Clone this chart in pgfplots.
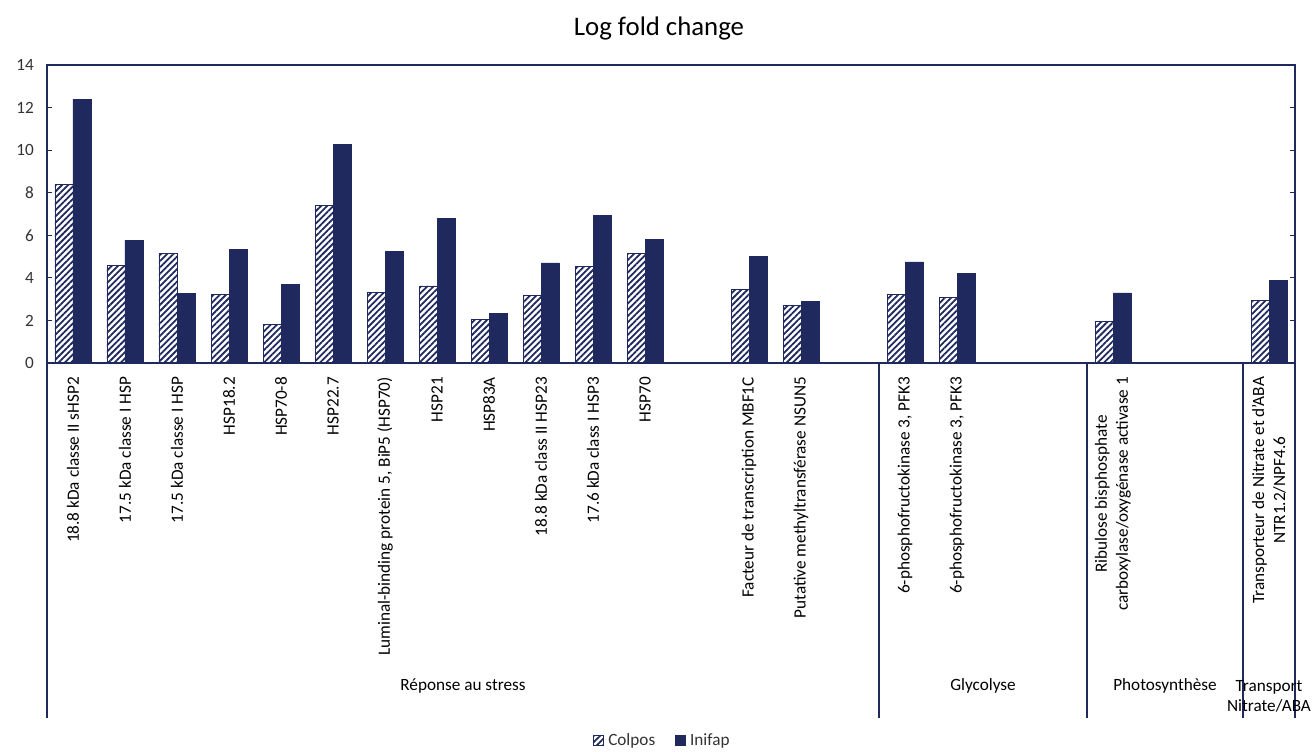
\documentclass[border=0pt]{standalone}
\usepackage{fontspec}
\setmainfont{Carlito}
\usepackage{pgfplots}
\usepackage{pgfplotstable}
\pgfplotsset{compat=1.18}
\usetikzlibrary{patterns.meta}
\definecolor{navy}{RGB}{31,41,94}

% slot, Colpos, Inifap (slots 12, 15, 18, 19, 21, 22 are empty)
\pgfplotstableread{
x colpos inifap
0 8.40 12.40
1 4.58 5.77
2 5.16 3.27
3 3.24 5.33
4 1.82 3.71
5 7.41 10.25
6 3.30 5.25
7 3.62 6.79
8 2.04 2.31
9 3.18 4.70
10 4.53 6.95
11 5.13 5.79
13 3.46 5.00
14 2.70 2.89
16 3.22 4.75
17 3.07 4.21
20 1.95 3.29
23 2.94 3.87
}\genes

\begin{document}
\begin{tikzpicture}
\useasboundingbox (-23.5pt,-194pt) rectangle (633pt,181.5pt);
\begin{axis}[
    at={(0,0)}, anchor=south west,
    scale only axis,
    width=624pt, height=149pt,
    ybar, ybar=0pt, bar width=9pt,
    xmin=-0.5, xmax=23.5,
    ymin=0, ymax=14, ytick={0,2,...,14},
    enlarge x limits=false,
    clip=false,
    axis line style={navy, line width=0.8pt},
    tick align=inside,
    major tick length=2.5pt,
    ytick style={navy, line width=0.6pt},
    xtick style={draw=none},
    /pgf/number format/assume math mode=true,
    yticklabel style={font=\fontsize{8.6}{10}\selectfont, text=black!80},
    yticklabel shift=3pt,
    xtick={0,1,2,3,4,5,6,7,8,9,10,11,13,14,16,17,20,23},
    xticklabels={
        18.8 kDa classe II sHSP2,
        17.5 kDa classe I HSP,
        17.5 kDa classe I HSP,
        HSP18.2,
        HSP70-8,
        HSP22.7,
        {Luminal-binding protein 5, BiP5 (HSP70)},
        HSP21,
        HSP83A,
        18.8 kDa class II HSP23,
        17.6 kDa class I HSP3,
        HSP70,
        Facteur de transcription MBF1C,
        Putative methyltransférase NSUN5,
        {6-phosphofructokinase 3, PFK3},
        {6-phosphofructokinase 3, PFK3},
        {Ribulose bisphosphate\\carboxylase/oxygénase activase 1},
        {Transporteur de Nitrate et d'ABA\\NTR1.2/NPF4.6}
    },
    xticklabel style={rotate=90, anchor=east, align=center,
        font=\fontsize{8.6}{10.5}\selectfont},
    xticklabel shift=3.5pt,
    legend columns=2,
    legend style={draw=none, fill=none, at={(0.494,-1.268)}, anchor=center,
        font=\fontsize{8.6}{10}\selectfont, text=black!80,
        /tikz/every even column/.append style={column sep=8pt}},
    legend image code/.code={\draw[#1] (0pt,-2.5pt) rectangle (5pt,2.5pt);},
]
\addplot[draw=navy, line width=0.4pt,
    pattern={Lines[angle=45, distance=2.2pt, line width=0.9pt]}, pattern color=navy]
    table[x=x, y=colpos] {\genes};
\addplot[draw=navy, fill=navy, line width=0.4pt]
    table[x=x, y=inifap] {\genes};
\legend{Colpos, Inifap}

% group separators of the category axis
\draw[navy, line width=0.8pt] (axis cs:-0.5,0) -- ++(0pt,-177.5pt);
\draw[navy, line width=0.8pt] (axis cs:15.5,0) -- ++(0pt,-177.5pt);
\draw[navy, line width=0.8pt] (axis cs:19.5,0) -- ++(0pt,-177.5pt);
\draw[navy, line width=0.8pt] (axis cs:22.5,0) -- ++(0pt,-177.5pt);
\draw[navy, line width=0.8pt] (axis cs:23.5,0) -- ++(0pt,-177.5pt);

\node[font=\fontsize{8.6}{10}\selectfont] at ([yshift=-161.5pt]axis cs:7.5,0) {Réponse au stress};
\node[font=\fontsize{8.6}{10}\selectfont] at ([yshift=-161.5pt]axis cs:17.5,0) {Glycolyse};
\node[font=\fontsize{8.6}{10}\selectfont] at ([yshift=-161.5pt]axis cs:21,0) {Photosynthèse};
\node[font=\fontsize{8.6}{10}\selectfont, align=center] at ([yshift=-166.5pt]axis cs:23,0) {Transport\\Nitrate/ABA};

\node[font=\fontsize{13.4}{15}\selectfont] at ([yshift=18.5pt]rel axis cs:0.4904,1) {Log fold change};
\end{axis}
\end{tikzpicture}
\end{document}
